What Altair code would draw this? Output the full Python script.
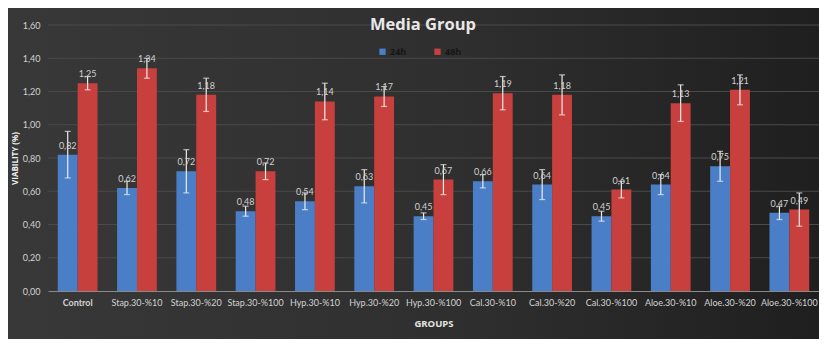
import altair as alt
import pandas as pd

groups = ["Control", "Stap.30-%10", "Stap.30-%20", "Stap.30-%100", "Hyp.30-%10",
          "Hyp.30-%20", "Hyp.30-%100", "Cal.30-%10", "Cal.30-%20", "Cal.30-%100",
          "Aloe.30-%10", "Aloe.30-%20", "Aloe.30-%100"]
series = ["24h", "48h"]
v24 = [0.82, 0.62, 0.72, 0.48, 0.54, 0.63, 0.45, 0.66, 0.64, 0.45, 0.64, 0.75, 0.47]
v48 = [1.25, 1.34, 1.18, 0.72, 1.14, 1.17, 0.67, 1.19, 1.18, 0.61, 1.13, 1.21, 0.49]
e24 = [0.14, 0.04, 0.13, 0.03, 0.05, 0.10, 0.02, 0.04, 0.09, 0.03, 0.06, 0.09, 0.04]
e48 = [0.04, 0.06, 0.10, 0.05, 0.11, 0.06, 0.09, 0.10, 0.12, 0.05, 0.11, 0.09, 0.10]
y_ticks = [0, 0.2, 0.4, 0.6, 0.8, 1.0, 1.2, 1.4, 1.6]
colors = ["#4a7fc7", "#c8403d"]

rows = []
for s, vals, errs in [("24h", v24, e24), ("48h", v48, e48)]:
    for g, v, e in zip(groups, vals, errs):
        rows.append({"group": g, "series": s, "value": v, "lo": v - e, "hi": v + e,
                     "label": f"{v:.2f}".replace(".", ",")})
df = pd.DataFrame(rows)
grid_df = pd.DataFrame({"tick": y_ticks[1:]})

W, H = 771, 266
FONT = "Open Sans"
LFONT = "Lato"

xenc = alt.X("group:N", sort=groups, scale=alt.Scale(paddingInner=0.33, paddingOuter=0.165),
             axis=alt.Axis(title="GROUPS", labelAngle=0, labelColor="#d2d2d2", labelFontSize=9,
                           labelFont=LFONT, labelPadding=7, ticks=False, domainColor="#8a8a8a",
                           domainWidth=1, grid=False, titleColor="#e6e6e6", titleFont=FONT,
                           titleFontSize=9.5, titleFontWeight="bold", titlePadding=11, zindex=1,
                           labelFontWeight={"condition": {"test": "datum.value === 'Control'", "value": "bold"}, "value": "normal"},
                           labelOverlap=False))
xoff = alt.XOffset("series:N", sort=series)
yscale = alt.Scale(domain=[0, 1.6], nice=False)
yaxis = alt.Axis(values=y_ticks, labelExpr="replace(format(datum.value, '.2f'), '.', ',')",
                 labelColor="#d2d2d2", labelFontSize=9, labelFont=LFONT, labelPadding=8,
                 labelOverlap=False, domain=False, ticks=False, grid=False, zindex=1,
                 title="VIABILITY (%)", titleColor="#f0f0f0", titleFontSize=8,
                 titleFont=FONT, titleFontWeight="bold", titleX=-33, titleY=H / 2,
                 titleAngle=-90, titleAlign="center", titleBaseline="middle")


def Y(field):
    return alt.Y(field, scale=yscale, axis=yaxis)


bg = alt.Chart(alt.Data(values=[{}])).mark_rect(
    fill=alt.Gradient(gradient="linear",
                      stops=[alt.GradientStop(color="#383838", offset=0),
                             alt.GradientStop(color="#2f2f2f", offset=0.55),
                             alt.GradientStop(color="#1f1f1f", offset=1)],
                      x1=0, x2=1, y1=0, y2=0)
).encode(x=alt.value(-40), x2=alt.value(W), y=alt.value(-17), y2=alt.value(H + 48))

grid = alt.Chart(grid_df).mark_rule(color="#4a4a4a", strokeWidth=1).encode(
    y=Y("tick:Q"), x=alt.value(0), x2=alt.value(W))

base = alt.Chart(df)

bars = base.mark_bar().encode(
    x=xenc, xOffset=xoff,
    y=Y("value:Q"),
    color=alt.Color("series:N", sort=series, scale=alt.Scale(domain=series, range=colors),
                    legend=alt.Legend(orient="none", legendX=330, legendY=22, direction="horizontal",
                                      title=None, symbolType="square", symbolSize=40,
                                      symbolStrokeWidth=0, labelColor="#151515", labelFontSize=9,
                                      labelFont=FONT, labelFontWeight="bold", columnPadding=26,
                                      labelOffset=3, zindex=1))
)

rules = base.mark_rule(color="#ececec", strokeWidth=1.2).encode(
    x=xenc, xOffset=xoff, y=Y("lo:Q"), y2="hi:Q")
caps_hi = base.mark_tick(color="#ececec", size=6, thickness=1.2).encode(
    x=xenc, xOffset=xoff, y=Y("hi:Q"))
caps_lo = base.mark_tick(color="#ececec", size=6, thickness=1.2).encode(
    x=xenc, xOffset=xoff, y=Y("lo:Q"))
labels = base.mark_text(color="#d0d0d0", fontSize=9, font=LFONT, baseline="bottom", dy=-4).encode(
    x=xenc, xOffset=xoff, y=Y("value:Q"), text="label:N")

title = alt.Chart(alt.Data(values=[{}])).mark_text(
    text="Media Group", font=FONT, fontSize=16.5, fontWeight="bold", color="#e8e8e8",
    baseline="middle", align="center"
).encode(x=alt.value(375), y=alt.value(0))

chart = alt.layer(bg, grid, bars, rules, caps_hi, caps_lo, labels, title).properties(
    width=W, height=H,
    autosize=alt.AutoSizeParams(type="none"),
    padding={"left": 40, "top": 17, "right": 0, "bottom": 48},
    background="#2b2b2b"
).configure_view(stroke=None)

chart.save("out.html", embed_options={"renderer": "svg", "actions": False})
